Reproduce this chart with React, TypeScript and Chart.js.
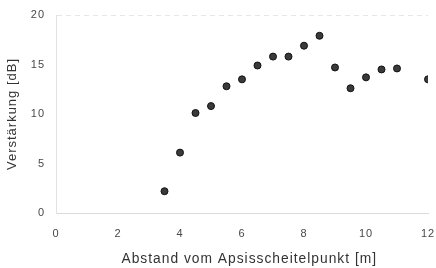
import React, { useEffect, useRef } from "react";
import { Chart, registerables } from "chart.js";

Chart.register(...registerables);

const distances = [3.5, 4, 4.5, 5, 5.5, 6, 6.5, 7, 7.5, 8, 8.5, 9, 9.5, 10, 10.5, 11, 12];
const gains = [2.2, 6.1, 10.1, 10.8, 12.8, 13.5, 14.9, 15.8, 15.8, 16.9, 17.9, 14.7, 12.6, 13.7, 14.5, 14.6, 13.5];
const xTitle = "Abstand vom Apsisscheitelpunkt [m]";
const yTitle = "Verstärkung [dB]";

const spacingPlugin = {
  id: "spacing",
  beforeUpdate(chart: any) {
    chart.ctx.letterSpacing = "1px";
  },
  beforeDraw(chart: any) {
    chart.ctx.letterSpacing = "1px";
  },
};

export default function App() {
  const ref = useRef<HTMLCanvasElement | null>(null);
  useEffect(() => {
    if (!ref.current) return;
    const chart = new Chart(ref.current, {
      type: "scatter",
      data: {
        datasets: [
          {
            data: distances.map((x, i) => ({ x, y: gains[i] })),
            backgroundColor: "#3a3a3a",
            borderColor: "#111111",
            borderWidth: 1,
            pointRadius: 3.5,
            pointHoverRadius: 3.5,
          },
        ],
      },
      plugins: [spacingPlugin],
      options: {
        responsive: false,
        animation: false,
        layout: { padding: { top: 15, right: 8, left: 0, bottom: 0 } },
        plugins: { legend: { display: false }, tooltip: { enabled: false } },
        scales: {
          x: {
            type: "linear",
            min: 0,
            max: 12,
            afterFit: (scale: any) => {
              scale.height = 55;
              scale.paddingLeft = 0;
              scale.paddingRight = 0;
            },
            ticks: { stepSize: 2, color: "#484848", font: { family: "Liberation Sans", size: 11 }, padding: 14 },
            grid: { display: true, drawOnChartArea: false, drawTicks: false, color: "#ccc" },
            border: { color: "#dadada", dash: [5, 4] },
            title: { display: true, text: "   " + xTitle, color: "#333", font: { family: "Liberation Sans", size: 13.8 }, padding: { top: 3, bottom: 1 } },
          },
          y: {
            min: 0,
            max: 20,
            afterFit: (scale: any) => {
              scale.width = 56;
              scale.paddingTop = 0;
              scale.paddingBottom = 0;
            },
            ticks: { stepSize: 5, color: "#484848", font: { family: "Liberation Sans", size: 11 }, padding: 11 },
            grid: {
              drawTicks: false,
              color: (ctx: any) => (ctx.tick && ctx.tick.value === 20 ? "#e6e6e6" : "rgba(0,0,0,0)"),
            },
            border: { color: "#e2e2e2", dash: [5, 4] },
            title: { display: true, text: yTitle, color: "#333", font: { family: "Liberation Sans", size: 13 }, padding: { top: 5, bottom: 0 } },
          },
        },
      },
    });
    return () => chart.destroy();
  }, []);
  return (
    <div style={{ position: "fixed", left: 0, top: 0, width: 436, height: 268, background: "#fff" }}>
      <canvas ref={ref} width={436} height={268} style={{ width: 436, height: 268 }} />
    </div>
  );
}
